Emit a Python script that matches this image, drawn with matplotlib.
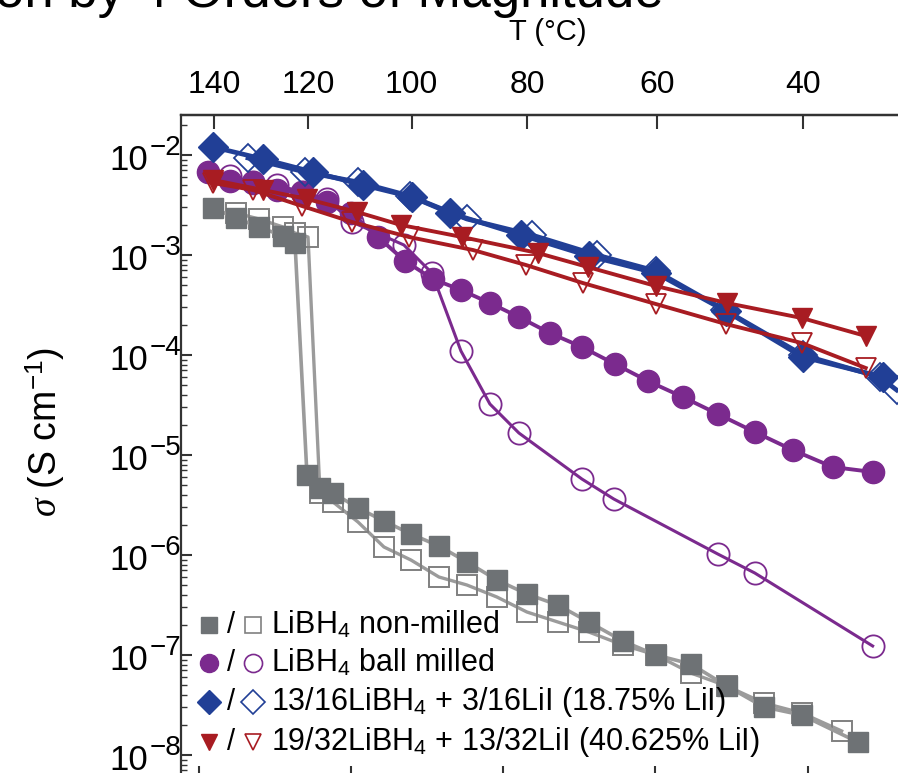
import numpy as np
import matplotlib
matplotlib.use("Agg")
import matplotlib.pyplot as plt
from matplotlib.ticker import FixedLocator, LogLocator, MultipleLocator, NullFormatter, FuncFormatter
from matplotlib.transforms import blended_transform_factory, offset_copy

plt.rcParams['font.family'] = ['Liberation Sans', 'DejaVu Sans']
plt.rcParams['mathtext.fontset'] = 'custom'
plt.rcParams['mathtext.rm'] = 'Liberation Sans'
plt.rcParams['mathtext.it'] = 'Liberation Serif:italic'
plt.rcParams['mathtext.bf'] = 'Liberation Sans:bold'

# x: 1000/T (K^-1), y: log10(sigma / S cm^-1)
gray_fill_x = [2.4191, 2.4493, 2.4795, 2.5110, 2.5267, 2.5424, 2.5595, 2.5766, 2.6094, 2.6435,
               2.6789, 2.7157, 2.7524, 2.7918, 2.8312, 2.8718, 2.9125, 2.9572, 3.0005, 3.0464,
               3.0936, 3.1422, 3.1921, 3.2655]
gray_fill_y = [-2.53, -2.63, -2.72, -2.81, -2.88, -5.20, -5.33, -5.38, -5.53, -5.66,
               -5.79, -5.91, -6.07, -6.25, -6.39, -6.50, -6.67, -6.86, -7.00, -7.09,
               -7.31, -7.52, -7.60, -7.87]
gray_open_x = [2.4493, 2.4795, 2.5110, 2.5267, 2.5438, 2.5595, 2.5766, 2.6094, 2.6435, 2.6789,
               2.7157, 2.7524, 2.7918, 2.8312, 2.8718, 2.9125, 2.9572, 3.0005, 3.0464, 3.0936,
               3.1422, 3.1921, 3.2445]
gray_open_y = [-2.58, -2.64, -2.72, -2.78, -2.82, -5.38, -5.47, -5.67, -5.92, -6.05,
               -6.22, -6.30, -6.42, -6.57, -6.67, -6.77, -6.90, -7.00, -7.18, -7.31,
               -7.48, -7.58, -7.76]

purple_fill_x = [2.4125, 2.4414, 2.4716, 2.5031, 2.5359, 2.5687, 2.6002, 2.6356, 2.6711, 2.7078,
                 2.7446, 2.7826, 2.8207, 2.8613, 2.9034, 2.9467, 2.9900, 3.0359, 3.0818, 3.1304,
                 3.1802, 3.2327, 3.2852]
purple_fill_y = [-2.17, -2.26, -2.28, -2.35, -2.38, -2.47, -2.58, -2.82, -3.06, -3.24,
                 -3.35, -3.48, -3.62, -3.78, -3.92, -4.09, -4.26, -4.42, -4.59, -4.77,
                 -4.95, -5.12, -5.17]
purple_open_x = [2.4414, 2.4716, 2.5031, 2.5359, 2.5687, 2.6015, 2.6697, 2.7065, 2.7446, 2.7826,
                 2.8207, 2.9034, 2.9453, 3.0818, 3.1304, 3.2852]
purple_open_y = [-2.21, -2.27, -2.30, -2.37, -2.44, -2.67, -2.90, -3.18, -3.96, -4.49,
                 -4.78, -5.24, -5.44, -5.99, -6.18, -6.91]

blue_fill_x = [2.4191, 2.4847, 2.5503, 2.6160, 2.6803, 2.7301, 2.8233, 2.9125, 3.0005, 3.0923,
               3.1934, 3.2983]
blue_fill_y = [-1.92, -2.04, -2.17, -2.30, -2.42, -2.58, -2.80, -3.01, -3.18, -3.56,
               -4.02, -4.22]
blue_open_x = [2.4650, 2.5398, 2.6094, 2.6776, 2.7524, 2.8377, 2.9230, 3.0005, 3.0910, 3.1934,
               3.2944, 3.3167]
blue_open_y = [-2.03, -2.17, -2.27, -2.41, -2.64, -2.80, -3.00, -3.16, -3.55, -4.00,
               -4.22, -4.35]

red_fill_x = [2.4191, 2.4847, 2.5424, 2.6081, 2.6658, 2.7459, 2.8456, 2.9112, 3.0005, 3.0936,
              3.1921, 3.2761]
red_fill_y = [-2.25, -2.35, -2.44, -2.57, -2.70, -2.82, -2.98, -3.12, -3.31, -3.48,
              -3.63, -3.81]
red_open_x = [2.4191, 2.4716, 2.5359, 2.6015, 2.6763, 2.7603, 2.8299, 2.9046, 3.0005, 3.0923,
              3.1921, 3.2761]
red_open_y = [-2.28, -2.35, -2.51, -2.67, -2.82, -2.95, -3.10, -3.28, -3.49, -3.69,
              -3.88, -4.13]

top_ticks_C = [140, 120, 100, 80, 60, 40]
legend_labels = ['LiBH$_4$ non-milled',
                 'LiBH$_4$ ball milled',
                 '13/16LiBH$_4$ + 3/16LiI (18.75% LiI)',
                 '19/32LiBH$_4$ + 13/32LiI (40.625% LiI)']

GRAY_M = '#6e7275'
GRAY_L = '#9b9b9b'
PURPLE = '#7b2a8e'
BLUE = '#213f96'
RED = '#a81c22'
NARROW = ['Liberation Sans Narrow', 'Liberation Sans']

W, H = 898, 773
fig = plt.figure(figsize=(W / 100, H / 100), dpi=100)
ax_l, ax_r, ax_t, ax_b = 181, 922, 115, 780
ax = fig.add_axes([ax_l / W, 1 - ax_b / H, (ax_r - ax_l) / W, (ax_b - ax_t) / H])

def p10(v):
    return 10 ** np.asarray(v)

# gray
ax.plot(gray_open_x, p10(gray_open_y), '-', color=GRAY_L, lw=2.4, marker='s', ms=14,
        mfc='none', mec='#808080', mew=1.4, zorder=2)
ax.plot(gray_fill_x, p10(gray_fill_y), '-', color=GRAY_L, lw=2.6, marker='s', ms=14,
        mfc=GRAY_M, mec=GRAY_M, zorder=3)
# purple
ax.plot(purple_open_x, p10(purple_open_y), '-', color=PURPLE, lw=2.2, marker='o', ms=16,
        mfc='none', mec=PURPLE, mew=1.3, zorder=4)
ax.plot(purple_fill_x, p10(purple_fill_y), '-', color=PURPLE, lw=2.8, marker='o', ms=16,
        mfc=PURPLE, mec=PURPLE, zorder=5)
# blue
ax.plot(blue_open_x, p10(blue_open_y), '-', color=BLUE, lw=3.4, marker='D', ms=14,
        mfc='none', mec=BLUE, mew=1.3, zorder=6)
ax.plot(blue_fill_x, p10(blue_fill_y), '-', color=BLUE, lw=3.4, marker='D', ms=15,
        mfc=BLUE, mec=BLUE, zorder=7)
# red
ax.plot(red_open_x, p10(red_open_y), '-', color=RED, lw=2.8, marker='v', ms=15,
        mfc='none', mec=RED, mew=1.3, zorder=8)
ax.plot(red_fill_x, p10(red_fill_y), '-', color=RED, lw=2.8, marker='v', ms=15,
        mfc=RED, mec=RED, zorder=9)

ax.set_yscale('log')
ax.set_xlim(2.377, 3.35)
ax.set_ylim(10 ** -8.25, 10 ** -1.6)

for side in ['left', 'top', 'bottom']:
    ax.spines[side].set_linewidth(1.6)
    ax.spines[side].set_color('#333333')
ax.spines['right'].set_visible(False)

ax.yaxis.set_major_locator(LogLocator(base=10, numticks=20))
ax.yaxis.set_minor_locator(LogLocator(base=10, subs=np.arange(2, 10), numticks=20))
ax.yaxis.set_major_formatter(NullFormatter())
ax.yaxis.set_minor_formatter(NullFormatter())
ax.xaxis.set_major_locator(MultipleLocator(0.2))
ax.xaxis.set_minor_locator(MultipleLocator(0.05))
ax.tick_params(axis='both', which='both', direction='in', color='#333333')
ax.tick_params(axis='y', which='major', length=8, width=1.5)
ax.tick_params(axis='y', which='minor', length=4, width=1.0)
ax.tick_params(axis='x', which='major', length=10, width=1.5, labelbottom=False)
ax.tick_params(axis='x', which='minor', length=5, width=1.0)

# decade labels with full-size exponents, like the original figure
ylo, yhi = ax.get_ylim()
ytrans = blended_transform_factory(ax.transAxes, ax.transData)
for v in ax.get_yticks():
    if not (ylo <= v <= yhi):
        continue
    e = int(round(np.log10(v)))
    ax.text(-0.045, v, '10', transform=offset_copy(ytrans, fig, y=-6, units='dots'),
            ha='right', va='center', fontsize=25, clip_on=False)
    ax.text(-0.043, v, '\u2212' + str(-e), transform=offset_copy(ytrans, fig, y=7, units='dots'),
            ha='left', va='center', fontsize=20, clip_on=False)

fig.text(45 / W, 1 - 432 / H, r'$\sigma$ (S cm$^{-1}$)', fontsize=27, rotation=90,
         ha='center', va='center')

# top axis in degrees C
top = ax.secondary_xaxis('top', functions=(lambda x: 1000.0 / np.asarray(x, float) - 273.15,
                                           lambda t: 1000.0 / (np.asarray(t, float) + 273.15)))
top.xaxis.set_major_locator(FixedLocator(top_ticks_C))
top.xaxis.set_minor_locator(FixedLocator([]))
top.xaxis.set_major_formatter(FuncFormatter(lambda v, p: f'{v:.0f}'))
top.tick_params(axis='x', which='major', direction='in', length=10, width=1.5, pad=11,
                labelsize=23, color='#333333')
for lab in top.get_xticklabels():
    lab.set_family(NARROW)
top.spines['top'].set_linewidth(1.6)
fig.text(548 / W, 1 - 32 / H, 'T (°C)', fontsize=21, ha='center', va='center', family=NARROW)

# legend drawn by hand: filled / open marker pairs
leg_rows = [625, 663, 702, 742]
leg_style = [('s', GRAY_M, 12), ('o', PURPLE, 13), ('D', BLUE, 12), ('v', RED, 12)]
for (mk, col, ms), lab, py in zip(leg_style, legend_labels, leg_rows):
    ya = (ax_b - py) / (ax_b - ax_t)
    ax.plot([(209 - ax_l) / (ax_r - ax_l)], [ya], marker=mk, ms=ms, mfc=col, mec=col,
            ls='none', transform=ax.transAxes, clip_on=False, zorder=10)
    ax.text((231 - ax_l) / (ax_r - ax_l), ya, '/', transform=ax.transAxes,
            ha='center', va='center', fontsize=21, zorder=10)
    ax.plot([(253 - ax_l) / (ax_r - ax_l)], [ya], marker=mk, ms=ms, mfc='none',
            mec=('#808080' if col == GRAY_M else col), mew=1.2, ls='none',
            transform=ax.transAxes, clip_on=False, zorder=10)
    ax.text((271 - ax_l) / (ax_r - ax_l), ya, lab, transform=ax.transAxes,
            ha='left', va='center', fontsize=22, zorder=10)

# cropped headline at very top
fig.text(-0.006, 1 - 7 / H, 'on by 4 Orders of Magnitude', fontsize=38,
         ha='left', va='baseline')

fig.savefig('out.png', dpi=100)
